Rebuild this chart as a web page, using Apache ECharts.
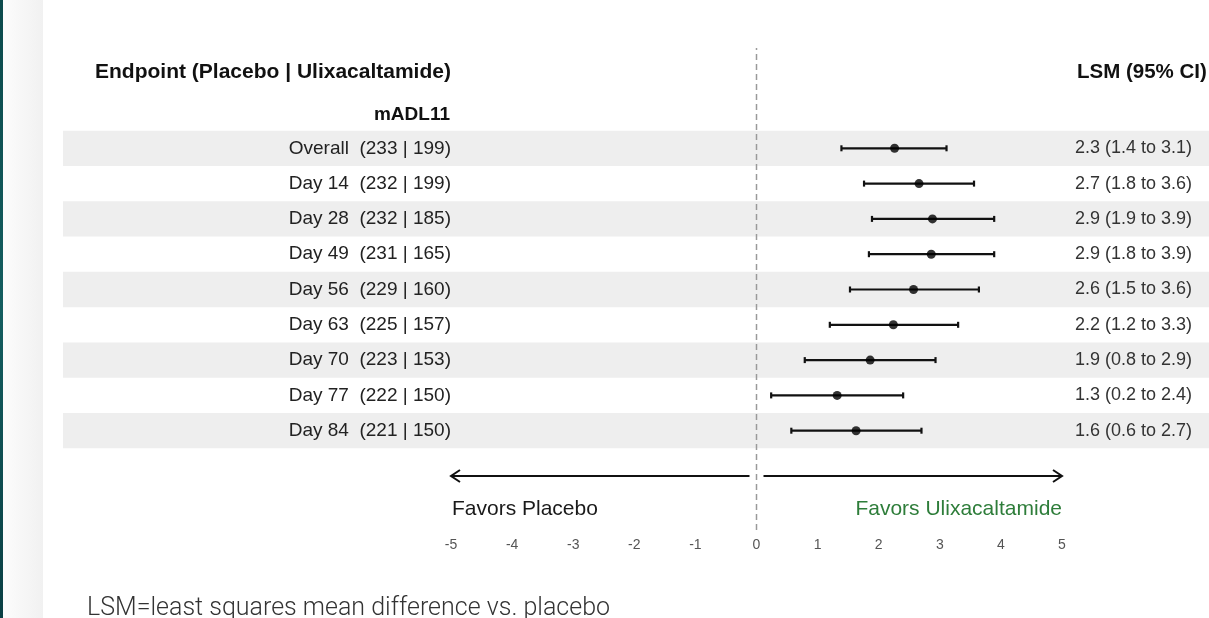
<!DOCTYPE html>
<html>
<head>
<meta charset="utf-8">
<script src="https://cdn.jsdelivr.net/npm/echarts@6/dist/echarts.min.js"></script>
<style>
html,body{margin:0;padding:0;background:#ffffff;}
#c{width:1209px;height:618px;}
</style>
</head>
<body>
<div id="c"></div>
<script>
// ---- data ----
const endpoints = ['Overall', 'Day 14', 'Day 28', 'Day 49', 'Day 56', 'Day 63', 'Day 70', 'Day 77', 'Day 84'];
const placeboN  = [233, 232, 232, 231, 229, 225, 223, 222, 221];
const ulixN     = [199, 199, 185, 165, 160, 157, 153, 150, 150];
const lsm       = [2.26, 2.66, 2.88, 2.86, 2.57, 2.24, 1.86, 1.32, 1.63];
const ciLow     = [1.39, 1.76, 1.89, 1.84, 1.53, 1.20, 0.79, 0.24, 0.57];
const ciHigh    = [3.11, 3.56, 3.89, 3.89, 3.64, 3.30, 2.93, 2.40, 2.70];
const xMin = -5, xMax = 5, xStep = 1;
const subgroupTitle = 'mADL11';
const leftHeader = 'Endpoint (Placebo | Ulixacaltamide)';
const rightHeader = 'LSM (95% CI)';
const favorsLeft = 'Favors Placebo';
const favorsRight = 'Favors Ulixacaltamide';
const footnote = 'LSM=least squares mean difference vs. placebo';

// ---- derived ----
const FONT = '"Liberation Sans", Arial, Helvetica, sans-serif';
const rowIdx = endpoints.map((_, i) => i);
const rowLabels = endpoints.map((e, i) => e + '  (' + placeboN[i] + ' | ' + ulixN[i] + ')');
const ciLabels = lsm.map((v, i) => v.toFixed(1) + ' (' + ciLow[i].toFixed(1) + ' to ' + ciHigh[i].toFixed(1) + ')');

const GRID_LEFT = 451, GRID_W = 611;
const ARROW_Y = 476;

const chart = echarts.init(document.getElementById('c'), null, { renderer: 'canvas' });

const option = {
  animation: false,
  backgroundColor: '#ffffff',
  grid: [
    { left: GRID_LEFT, width: GRID_W, top: 130.65, height: 317.7 },
    { left: GRID_LEFT, width: GRID_W, top: 48, height: 482 }
  ],
  xAxis: [
    { gridIndex: 0, type: 'value', min: xMin, max: xMax, show: false },
    {
      gridIndex: 1, type: 'value', min: xMin, max: xMax, interval: xStep,
      axisLine: { show: false }, axisTick: { show: false }, splitLine: { show: false },
      axisLabel: { color: '#555555', fontSize: 14, margin: 8, fontFamily: FONT }
    }
  ],
  yAxis: [
    {
      gridIndex: 0, type: 'category', data: rowLabels, inverse: true, position: 'left',
      axisLine: { show: false }, axisTick: { show: false }, splitLine: { show: false },
      axisLabel: { interval: 0, margin: 0, fontSize: 19, color: '#222222', fontFamily: FONT }
    },
    {
      gridIndex: 0, type: 'category', data: ciLabels, inverse: true, position: 'right',
      axisLine: { show: false }, axisTick: { show: false }, splitLine: { show: false },
      axisLabel: { interval: 0, margin: 13, fontSize: 18, color: '#333333', align: 'left', fontFamily: FONT }
    },
    { gridIndex: 1, type: 'value', min: 0, max: 1, show: false }
  ],
  series: [
    {
      // alternating row bands
      type: 'custom', xAxisIndex: 0, yAxisIndex: 0, z: 0, silent: true,
      data: rowIdx.filter(i => i % 2 === 0).map(i => [0, i]),
      renderItem: function (params, api) {
        const c = api.coord([0, api.value(1)]);
        const h = api.size([0, 1])[1];
        return { type: 'rect', shape: { x: 63, y: c[1] - h / 2, width: 1146, height: h }, style: { fill: '#eeeeee' } };
      }
    },
    {
      // zero reference line
      type: 'line', xAxisIndex: 1, yAxisIndex: 2, z: 2, silent: true,
      data: [[0, 0], [0, 1]], showSymbol: false, symbol: 'none',
      lineStyle: { color: '#9a9a9a', width: 1.5, type: [6, 4] }
    },
    {
      // direction arrows
      type: 'custom', xAxisIndex: 1, yAxisIndex: 2, z: 2, silent: true,
      data: [[xMin, 0], [xMax, 0]],
      renderItem: function (params, api) {
        const end = api.coord([api.value(0), 0])[0];
        const zero = api.coord([0, 0])[0];
        const d = end < zero ? -1 : 1;
        const start = zero + d * 7;
        const st = { stroke: '#111111', lineWidth: 2, fill: null };
        return {
          type: 'group', children: [
            { type: 'line', shape: { x1: start, y1: ARROW_Y, x2: end, y2: ARROW_Y }, style: st },
            { type: 'polyline', shape: { points: [[end - d * 9, ARROW_Y - 6], [end, ARROW_Y], [end - d * 9, ARROW_Y + 6]] }, style: st }
          ]
        };
      }
    },
    {
      // confidence intervals
      type: 'custom', xAxisIndex: 0, yAxisIndex: 0, z: 3, silent: true,
      data: rowIdx.map(i => [ciLow[i], ciHigh[i], i]),
      encode: { x: [0, 1], y: 2 },
      renderItem: function (params, api) {
        const lo = api.coord([api.value(0), api.value(2)]);
        const hi = api.coord([api.value(1), api.value(2)]);
        const st = { stroke: '#111111', lineWidth: 2.2 };
        return {
          type: 'group', children: [
            { type: 'line', shape: { x1: lo[0], y1: lo[1], x2: hi[0], y2: hi[1] }, style: st },
            { type: 'line', shape: { x1: lo[0], y1: lo[1] - 3, x2: lo[0], y2: lo[1] + 3 }, style: st },
            { type: 'line', shape: { x1: hi[0], y1: hi[1] - 3, x2: hi[0], y2: hi[1] + 3 }, style: st }
          ]
        };
      }
    },
    {
      type: 'scatter', xAxisIndex: 0, yAxisIndex: 0, z: 4, silent: true,
      data: rowIdx.map(i => [lsm[i], i]),
      symbol: 'circle', symbolSize: 9,
      itemStyle: { color: '#000000' }
    }
  ],
  graphic: [
    {
      type: 'rect', left: 0, top: 0, z: -10, silent: true,
      shape: { width: 3, height: 618 },
      style: { fill: new echarts.graphic.LinearGradient(0, 0, 0, 1, [
        { offset: 0, color: '#0c4a4c' }, { offset: 0.5, color: '#145e60' }, { offset: 1, color: '#0a3f44' }
      ]) }
    },
    {
      type: 'rect', left: 3, top: 0, z: -10, silent: true,
      shape: { width: 40, height: 618 },
      style: { fill: new echarts.graphic.LinearGradient(0, 0, 1, 0, [
        { offset: 0, color: '#fcfcfc' }, { offset: 1, color: '#f1f1f1' }
      ]) }
    },
    {
      type: 'text', x: 95, y: 72, z: 10, silent: true,
      style: { text: leftHeader, fontFamily: FONT, fontWeight: 'bold', fontSize: 21, fill: '#111111', verticalAlign: 'middle', align: 'left' }
    },
    {
      type: 'text', x: 450, y: 115, z: 10, silent: true,
      style: { text: subgroupTitle, fontFamily: FONT, fontWeight: 'bold', fontSize: 19, fill: '#111111', verticalAlign: 'middle', align: 'right' }
    },
    {
      type: 'text', x: 1077, y: 72, z: 10, silent: true,
      style: { text: rightHeader, fontFamily: FONT, fontWeight: 'bold', fontSize: 20.5, fill: '#111111', verticalAlign: 'middle', align: 'left' }
    },
    {
      type: 'text', x: 452, y: 509, z: 10, silent: true,
      style: { text: favorsLeft, fontFamily: FONT, fontSize: 21, fill: '#1a1a1a', verticalAlign: 'middle', align: 'left' }
    },
    {
      type: 'text', x: 1062, y: 509, z: 10, silent: true,
      style: { text: favorsRight, fontFamily: FONT, fontSize: 21, fill: '#2e7d3a', verticalAlign: 'middle', align: 'right' }
    },
    {
      type: 'text', x: 87, y: 609, z: 10, silent: true,
      style: { text: footnote, fontFamily: 'Roboto, "Noto Sans", sans-serif', fontWeight: 300, fontSize: 25, fill: '#333333', verticalAlign: 'middle', align: 'left' }
    }
  ]
};

chart.setOption(option);
</script>
</body>
</html>
